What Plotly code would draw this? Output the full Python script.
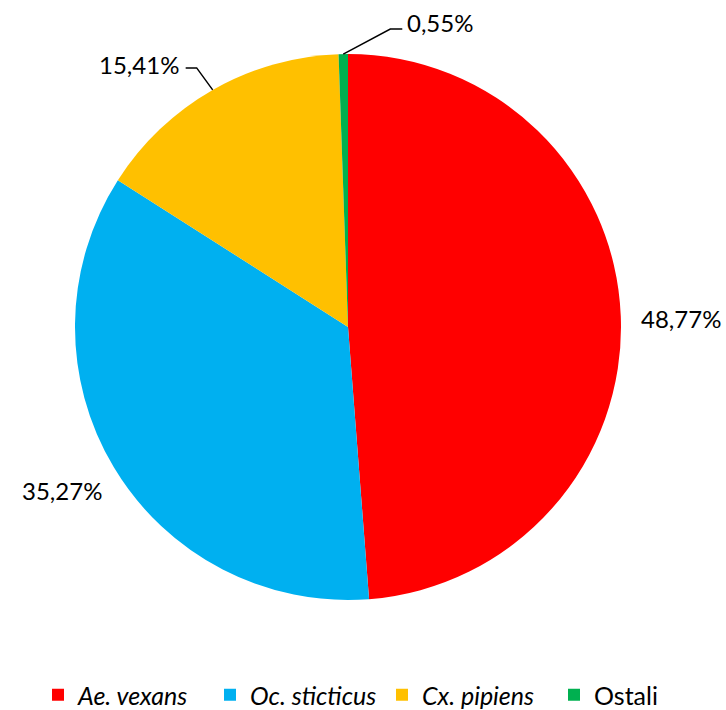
import math
import plotly.graph_objects as go

# ---- data ----
categories = ["<i>Ae. vexans</i>", "<i>Oc. sticticus</i>", "<i>Cx. pipiens</i>", "Ostali"]
values = [48.77, 35.27, 15.41, 0.55]
value_labels = ["48,77%", "35,27%", "15,41%", "0,55%"]
colors = ["#FF0000", "#00B0F0", "#FFC000", "#00B050"]

W, H = 726, 710
CX, CY, R = 348, 327, 273            # pie centre / radius in window pixels
FONT = "Lato"
LABEL_SIZE = 24
LEGEND_SIZE = 25


def px(x):
    return x / W


def py(y):
    return 1 - y / H


fig = go.Figure(go.Pie(
    labels=categories, values=values, sort=False, direction="clockwise",
    rotation=0, textinfo="none", hoverinfo="label+percent",
    marker=dict(colors=colors, line=dict(width=0)),
    domain=dict(x=[px(CX - R), px(CX + R)], y=[py(CY + R), py(CY - R)]),
))

# label placement styles
style = [
    dict(f=1.22, leader=False, dy=4),
    dict(f=1.22, leader=False, dy=-8),
    dict(leader=True, ex=-16, ey=-22, hl=-11, dy=-3),
    dict(leader=True, ex=47, ey=-25, hl=12, dy=-7),
]

total = sum(values)
cum = 0.0
annotations = []
shapes = []
for v, lab, st in zip(values, value_labels, style):
    mid = (cum + v / 2) / total * 2 * math.pi
    cum += v
    sx, sy = math.sin(mid), -math.cos(mid)
    if not st["leader"]:
        lx = CX + st["f"] * R * sx
        ly = CY + st["f"] * R * sy + st["dy"]
        annotations.append(dict(x=px(lx), y=py(ly), xref="paper", yref="paper",
                                text=lab, showarrow=False, xanchor="center", yanchor="middle",
                                font=dict(family=FONT, size=LABEL_SIZE, color="#000")))
    else:
        ax, ay = CX + R * sx, CY + R * sy
        bx, by = ax + st["ex"], ay + st["ey"]
        cx2 = bx + st["hl"]
        shapes.append(dict(type="path", xref="paper", yref="paper",
                           path=f"M {px(ax)},{py(ay)} L {px(bx)},{py(by)} L {px(cx2)},{py(by)}",
                           line=dict(color="#000", width=1.5)))
        left = st["hl"] > 0
        annotations.append(dict(x=px(cx2 + (3 if left else -5)), y=py(by + st["dy"]),
                                xref="paper", yref="paper", text=lab, showarrow=False,
                                xanchor="left" if left else "right", yanchor="middle",
                                font=dict(family=FONT, size=LABEL_SIZE, color="#000")))

fig.update_layout(
    width=W, height=H, margin=dict(l=0, r=0, t=0, b=0, autoexpand=False),
    paper_bgcolor="white", plot_bgcolor="white",
    font=dict(family=FONT, size=LEGEND_SIZE, color="#000"),
    showlegend=True,
    legend=dict(orientation="h", x=px(38), xanchor="left", y=py(718), yanchor="bottom",
                entrywidth=127, entrywidthmode="pixels",
                font=dict(family=FONT, size=LEGEND_SIZE, color="#000"),
                traceorder="normal", itemclick=False, itemdoubleclick=False),
    annotations=annotations, shapes=shapes,
)

fig.write_html("out.html", config={"displayModeBar": False},
               post_script="document.body.style.margin='0px';")
